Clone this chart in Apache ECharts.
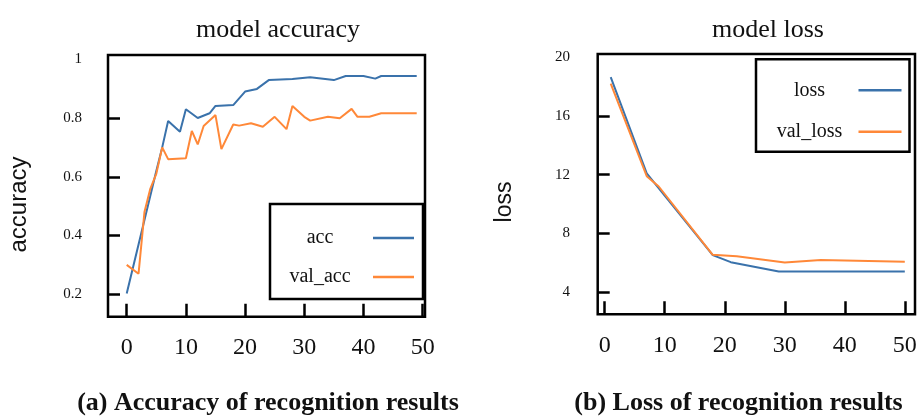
<!DOCTYPE html>
<html>
<head>
<meta charset="utf-8">
<script src="https://cdn.jsdelivr.net/npm/echarts@6/dist/echarts.min.js"></script>
<style>html,body{margin:0;padding:0;background:#fff;}#c{width:921px;height:419px;}</style>
</head>
<body>
<div id="c"></div>
<script>
// ---- data ----
const epochTicks = [0, 10, 20, 30, 40, 50];
const accTickLabels = [0.2, 0.4, 0.6, 0.8, 1];
const accTickMarks = [0.2, 0.4, 0.6, 0.8];
const lossTickLabels = [4, 8, 12, 16, 20];
const lossTickMarks = [4, 8, 12, 16];

const accEpochs = [0, 5, 6, 7, 9, 10, 12, 14, 15, 18, 20, 22, 24, 28, 31, 35, 37, 40, 42, 43, 49];
const accValues = [0.203, 0.62, 0.70, 0.79, 0.753, 0.83, 0.80, 0.816, 0.841, 0.844, 0.89, 0.899, 0.929, 0.933, 0.939, 0.929, 0.943, 0.943, 0.934, 0.943, 0.943];

const valAccEpochs = [0, 2, 3, 4, 5, 6, 7, 10, 11, 12, 13, 15, 16, 18, 19, 21, 23, 25, 27, 28, 30, 31, 34, 36, 38, 39, 41, 43, 49];
const valAccValues = [0.30, 0.27, 0.48, 0.56, 0.61, 0.70, 0.66, 0.663, 0.756, 0.71, 0.773, 0.81, 0.694, 0.778, 0.774, 0.782, 0.77, 0.804, 0.762, 0.841, 0.804, 0.791, 0.804, 0.799, 0.831, 0.804, 0.804, 0.816, 0.816];

const lossEpochs = [1, 7, 18, 21, 29, 50];
const lossValues = [18.65, 12.1, 6.53, 6.05, 5.42, 5.42];

const valLossEpochs = [1, 7, 9, 18, 22, 30, 36, 50];
const valLossValues = [18.2, 11.9, 11.2, 6.55, 6.45, 6.02, 6.2, 6.08];

// ---- chart ----
const BLUE = '#3a72ab';
const ORANGE = '#ff8838';
const SERIF = '"Liberation Serif", "DejaVu Serif", serif';
const SANS = '"Liberation Sans", Arial, sans-serif';
const pairs = (xs, ys) => xs.map((x, i) => [x, ys[i]]);

const chart = echarts.init(document.getElementById('c'), null, {renderer: 'canvas'});

function xAxisCfg(idx, min, max) {
  return {
    type: 'value', gridIndex: idx, min: min, max: max,
    axisLine: {show: false, onZero: false},
    splitLine: {show: false},
    axisTick: {show: true, inside: true, length: 13, customValues: epochTicks,
      lineStyle: {color: '#000', width: 2.5}},
    axisLabel: {customValues: epochTicks, margin: 19, color: '#111',
      fontFamily: SERIF, fontSize: 24}
  };
}
function yAxisCfg(idx, min, max, labels, marks, margin) {
  return {
    type: 'value', gridIndex: idx, min: min, max: max,
    axisLine: {show: false, onZero: false},
    splitLine: {show: false},
    axisTick: {show: true, inside: true, length: 12, customValues: marks,
      lineStyle: {color: '#000', width: 2.5}},
    axisLabel: {customValues: labels, margin: margin, color: '#111',
      fontFamily: SERIF, fontSize: 15}
  };
}
function legendCfg(names, left, top, pad, textW, iconW, gap) {
  return {
    data: names, orient: 'vertical', align: 'right',
    left: left, top: top, padding: pad,
    itemWidth: iconW, itemHeight: 2.5, itemGap: gap, icon: 'rect',
    borderColor: '#000', borderWidth: 2.5, backgroundColor: '#fff',
    selectedMode: false,
    formatter: '{t|{name}}',
    textStyle: {rich: {t: {width: textW, align: 'center', fontFamily: SERIF,
      fontSize: 20, lineHeight: 20, color: '#111'}}}
  };
}

const option = {
  animation: false,
  backgroundColor: '#fff',
  title: [
    {text: 'model accuracy', left: 273, top: 12, textAlign: 'center',
      textStyle: {fontFamily: SERIF, fontSize: 26, fontWeight: 'normal', color: '#111'}},
    {text: 'model loss', left: 763, top: 12, textAlign: 'center',
      textStyle: {fontFamily: SERIF, fontSize: 26, fontWeight: 'normal', color: '#111'}}
  ],
  grid: [
    {left: 108, top: 55, width: 317, height: 261.7, show: true,
      borderColor: '#000', borderWidth: 2.5, backgroundColor: 'transparent'},
    {left: 597.7, top: 54, width: 317.3, height: 260.3, show: true,
      borderColor: '#000', borderWidth: 2.5, backgroundColor: 'transparent'}
  ],
  xAxis: [xAxisCfg(0, -3.16, 50.4), xAxisCfg(1, -1.17, 51.7)],
  yAxis: [
    yAxisCfg(0, 0.1238, 1.0144, accTickLabels, accTickMarks, 26),
    yAxisCfg(1, 2.5, 20.22, lossTickLabels, lossTickMarks, 27.7)
  ],
  legend: [
    legendCfg(['acc', 'val_acc'], 270, 204, [24, 9, 12, 2], 96, 41, 19),
    legendCfg(['loss', 'val_loss'], 756, 59.3, [21, 8, 10, 9.5], 88, 43, 21.5)
  ],
  series: [
    {name: 'acc', type: 'line', xAxisIndex: 0, yAxisIndex: 0, symbol: 'none',
      data: pairs(accEpochs, accValues), lineStyle: {color: BLUE, width: 2}, itemStyle: {color: BLUE}},
    {name: 'val_acc', type: 'line', xAxisIndex: 0, yAxisIndex: 0, symbol: 'none',
      data: pairs(valAccEpochs, valAccValues), lineStyle: {color: ORANGE, width: 2}, itemStyle: {color: ORANGE}},
    {name: 'loss', type: 'line', xAxisIndex: 1, yAxisIndex: 1, symbol: 'none',
      data: pairs(lossEpochs, lossValues), lineStyle: {color: BLUE, width: 2}, itemStyle: {color: BLUE}},
    {name: 'val_loss', type: 'line', xAxisIndex: 1, yAxisIndex: 1, symbol: 'none',
      data: pairs(valLossEpochs, valLossValues), lineStyle: {color: ORANGE, width: 2}, itemStyle: {color: ORANGE}}
  ],
  graphic: [
    {type: 'text', x: 19, y: 204.5, rotation: Math.PI / 2,
      style: {text: 'accuracy', font: '24px ' + SANS, fill: '#111', textAlign: 'center', textVerticalAlign: 'middle'}},
    {type: 'text', x: 505, y: 202, rotation: Math.PI / 2,
      style: {text: 'loss', font: '23px ' + SANS, fill: '#111', textAlign: 'center', textVerticalAlign: 'middle'}},
    {type: 'text', x: 268, y: 403,
      style: {text: '(a) Accuracy of recognition results', font: 'bold 26px ' + SERIF, fill: '#111', textAlign: 'center', textVerticalAlign: 'middle'}},
    {type: 'text', x: 738.5, y: 403,
      style: {text: '(b) Loss of recognition results', font: 'bold 26px ' + SERIF, fill: '#111', textAlign: 'center', textVerticalAlign: 'middle'}}
  ]
};
chart.setOption(option);
</script>
</body>
</html>
